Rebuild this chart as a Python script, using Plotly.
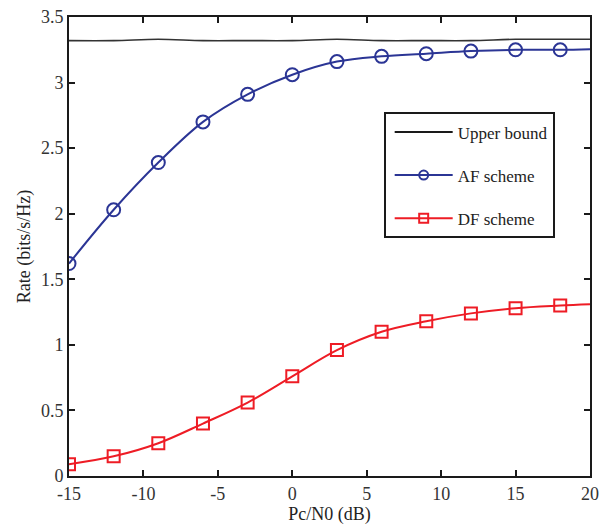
import plotly.graph_objects as go

x_line = [-15, -12, -9, -6, -3, 0, 3, 6, 9, 12, 15, 18, 20]
x_mark = [-15, -12, -9, -6, -3, 0, 3, 6, 9, 12, 15, 18]
upper = [3.32, 3.32, 3.33, 3.32, 3.32, 3.32, 3.33, 3.32, 3.32, 3.32, 3.33, 3.33, 3.33]
af = [1.62, 2.03, 2.39, 2.70, 2.91, 3.06, 3.16, 3.20, 3.22, 3.24, 3.25, 3.25, 3.255]
df = [0.09, 0.15, 0.25, 0.40, 0.56, 0.76, 0.96, 1.10, 1.18, 1.24, 1.28, 1.30, 1.31]
names = ["Upper bound", "AF scheme", "DF scheme"]

BLACK = "#1a1a1a"
BLUE = "#2b3595"
RED = "#ee1c25"
FONT = "Liberation Serif"

fig = go.Figure()
n = len(x_mark)
fig.add_trace(go.Scatter(x=x_line, y=upper, mode="lines", line=dict(color="#333", width=1.6, shape="spline"),
                         showlegend=False))
fig.add_trace(go.Scatter(x=x_line, y=af, mode="lines", line=dict(color=BLUE, width=2, shape="spline"),
                         showlegend=False))
fig.add_trace(go.Scatter(x=x_mark, y=af[:n], mode="markers",
                         marker=dict(symbol="circle-open", size=13, color=BLUE, line=dict(width=2, color=BLUE)),
                         showlegend=False))
fig.add_trace(go.Scatter(x=x_line, y=df, mode="lines", line=dict(color=RED, width=2, shape="spline"),
                         showlegend=False))
fig.add_trace(go.Scatter(x=x_mark, y=df[:n], mode="markers",
                         marker=dict(symbol="square-open", size=12, color=RED, line=dict(width=2, color=RED)),
                         showlegend=False))

# legend entries
fig.add_trace(go.Scatter(x=[None], y=[None], mode="lines", name=names[0], legendgroup="a",
                         line=dict(color=BLACK, width=2)))
fig.add_trace(go.Scatter(x=[None], y=[None], mode="lines+markers", name=names[1], legendgroup="b",
                         line=dict(color=BLUE, width=2),
                         marker=dict(symbol="circle-open", size=9, color=BLUE, line=dict(width=2, color=BLUE))))
fig.add_trace(go.Scatter(x=[None], y=[None], mode="lines+markers", name=names[2], legendgroup="c",
                         line=dict(color=RED, width=2),
                         marker=dict(symbol="square-open", size=9, color=RED, line=dict(width=2, color=RED))))

axis_common = dict(showline=True, linecolor=BLACK, linewidth=2, mirror="ticks", ticks="inside",
                   ticklen=6, tickwidth=2, tickcolor=BLACK, showgrid=False, zeroline=False,
                   tickfont=dict(family=FONT, size=18, color="#333"))

fig.update_layout(
    width=606, height=525,
    margin=dict(l=69, r=7, t=16, b=48),
    paper_bgcolor="white", plot_bgcolor="white",
    font=dict(family=FONT, color="#222"),
    xaxis=dict(range=[-15, 20], tickvals=[-15, -10, -5, 0, 5, 10, 15, 20],
               ticktext=["-15", "-10", "-5", "0", "5", "10", "15", "20"],
               title=dict(text="Pc/N0 (dB)", font=dict(family=FONT, size=18, color="#222"), standoff=2),
               **axis_common),
    yaxis=dict(range=[0, 3.5], tickvals=[0, 0.5, 1, 1.5, 2, 2.5, 3, 3.5],
               ticktext=["0", "0.5", "1", "1.5", "2", "2.5", "3", "3.5"],
               title=dict(text="Rate (bits/s/Hz)", font=dict(family=FONT, size=18, color="#222"), standoff=6),
               **axis_common),
    legend=dict(x=0.604, y=0.792, xanchor="left", yanchor="top",
                bordercolor=BLACK, borderwidth=2, bgcolor="white",
                font=dict(family=FONT, size=17, color="#222"),
                itemwidth=58, tracegroupgap=18, traceorder="grouped",
                indentation=4),
)

fig.write_html("out.html")
